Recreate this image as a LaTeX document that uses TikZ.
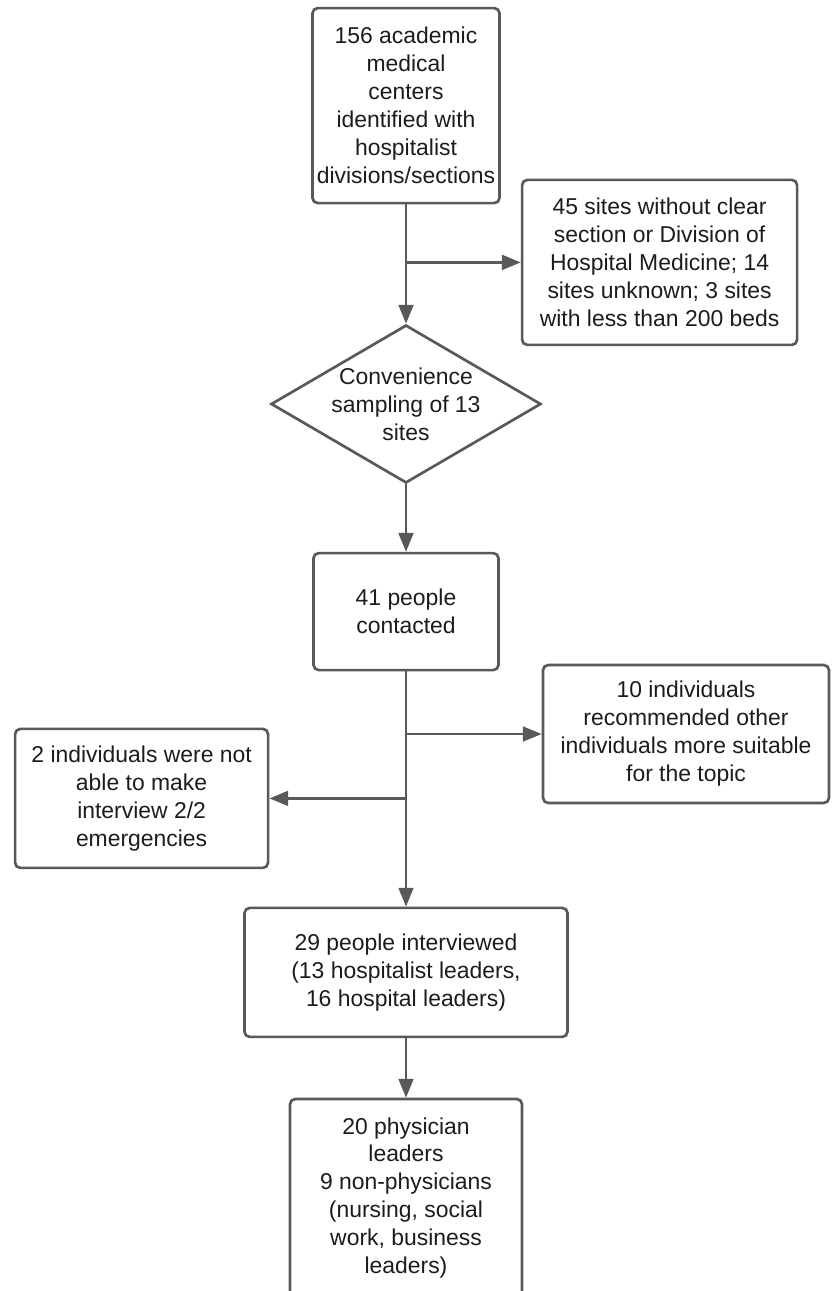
\documentclass[tikz,border=0pt]{standalone}
\usepackage{fontspec}
\setmainfont{Liberation Sans}
\usepackage{xcolor}
\usetikzlibrary{arrows.meta,shapes.geometric}

\definecolor{linegray}{HTML}{595959}
\definecolor{textblack}{HTML}{1C1C1C}

\begin{document}
\begin{tikzpicture}[
    font=\fontsize{16.3}{19.9}\selectfont,
    box/.style={draw=linegray, line width=1.9pt, rounded corners=0.13cm, fill=white,
        align=center, text=textblack, inner sep=2pt},
    decision/.style={draw=linegray, line width=1.9pt, diamond, fill=white, inner sep=0pt},
    flow/.style={draw=linegray, line width=1.7pt,
        -{Triangle[length=0.47cm, width=0.37cm]}}
  ]
        \clip (0,0) rectangle (20.775,-32.275);
        \fill[white] (0,0) rectangle (20.775,-32.275);

        % Centers
        \node[box, minimum width=4.675cm, minimum height=4.875cm] (centers) at (10.15,-2.64)
            {156 academic\\medical\\centers\\identified with\\hospitalist\\divisions/sections};

        % Excluded sites
        \node[box, minimum width=6.875cm, minimum height=4.125cm] (excluded) at (16.49,-6.56)
            {45 sites without clear\\section or Division of\\Hospital Medicine; 14\\sites unknown; 3 sites\\with less than 200 beds};

        % Sampling
        \node[decision, minimum width=6.75cm, minimum height=3.95cm] (sampling) at (10.15,-10.1) {};
        \node[align=center, text=textblack] (samplingtext) at (sampling) {Convenience\\sampling of 13\\sites};

        % Contacted
        \node[box, minimum width=4.625cm, minimum height=2.925cm] (contacted) at (10.15,-15.29)
            {41 people\\contacted};

        % Referred on
        \node[box, minimum width=7.15cm, minimum height=3.45cm] (referred) at (17.15,-18.35)
            {10 individuals\\recommended other\\individuals more suitable\\for the topic};

        % Missed
        \node[box, minimum width=6.325cm, minimum height=3.475cm] (missed) at (3.54,-19.96)
            {2 individuals were not\\able to make\\interview 2/2\\emergencies};

        % Interviewed
        \node[box, minimum width=8.075cm, minimum height=3.225cm] (interviewed) at (10.15,-24.31)
            {29 people interviewed\\(13 hospitalist leaders,\\16 hospital leaders)};

        % Roles
        \node[box, minimum width=5.8cm, minimum height=4.95cm] (roles) at (10.15,-29.95)
            {20 physician\\leaders\\9 non-physicians\\(nursing, social\\work, business\\leaders)};

        % Arrows
        \draw[flow] (centers.south) -- (sampling.north);
        \draw[flow] (centers.south |- excluded.west) -- (excluded.west);
        \draw[flow] (sampling.south) -- (contacted.north);
        \draw[flow] (contacted.south) -- (interviewed.north);
        \draw[flow] (contacted.south |- referred.west) -- (referred.west);
        \draw[flow] (contacted.south |- missed.east) -- (missed.east);
        \draw[flow] (interviewed.south) -- (roles.north);
    \end{tikzpicture}
\end{document}
